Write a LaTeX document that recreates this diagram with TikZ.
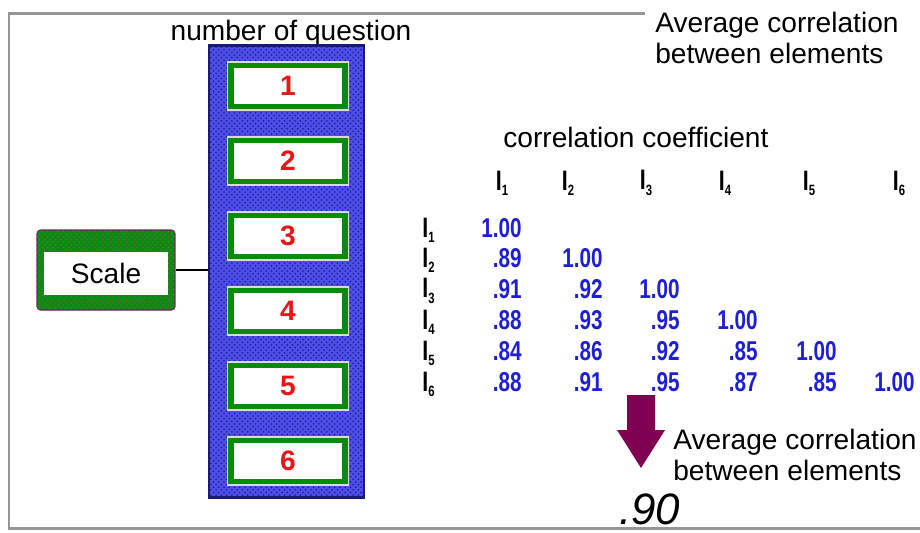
\documentclass[tikz,border=0pt]{standalone}
\usepackage{fontspec}
\setmainfont{Liberation Sans}
\newfontfamily\numfont[FakeStretch=0.76]{Liberation Sans}
\usetikzlibrary{patterns}

\definecolor{qblue}{RGB}{78,78,236}
\definecolor{qdark}{RGB}{25,25,120}
\definecolor{qgreen}{RGB}{10,140,10}
\definecolor{qred}{RGB}{232,22,22}
\definecolor{vblue}{RGB}{30,30,215}
\definecolor{arrowpurple}{RGB}{128,0,82}
\definecolor{framegray}{RGB}{150,150,150}

\newcommand{\itm}[1]{{\bfseries I}\raisebox{-0.35ex}{\fontsize{8.5}{9}\selectfont\bfseries #1}}

\begin{document}
\begin{tikzpicture}[
  x=0.02cm, y=-0.02cm,
  lbl/.style={font=\fontsize{16}{17.5}\selectfont, inner sep=0, align=left},
  qcol/.style={draw=qdark, line width=1.5pt, fill=qblue,
    postaction={pattern=crosshatch dots, pattern color=qdark},
    minimum width=3.1cm, minimum height=9.04cm, inner sep=0},
  qbox/.style={fill=white, draw=qgreen, line width=3.2pt,
    preaction={draw=gray!30, line width=5pt},
    minimum width=2.28cm, minimum height=0.82cm, inner sep=0,
    text=qred, font=\fontsize{16}{16}\selectfont\bfseries},
  scalebg/.style={draw={rgb,255:red,120;green,30;blue,100}, line width=0.6pt,
    rounded corners=2pt, fill=qgreen,
    postaction={pattern=crosshatch dots, pattern color=black!60},
    minimum width=2.76cm, minimum height=1.6cm, inner sep=0},
  scalebox/.style={fill=white, minimum width=2.5cm, minimum height=0.86cm,
    inner sep=0, font=\fontsize{16}{16}\selectfont},
  val/.style={anchor=east, inner sep=0, text=vblue,
    font=\fontsize{15.5}{15.5}\selectfont\numfont\bfseries},
  itmlbl/.style={inner sep=0, font=\fontsize{16}{16}\selectfont\numfont}
]
\useasboundingbox (0,0) rectangle (920,532);

% frame
\draw[framegray, line width=1.7pt] (645,13) -- (9,13) -- (9,528) -- (920,528);

% questions
\node[lbl] (numq) at (291,33) {number of question};
\node[qcol] (qcol) at (286.5,271.5) {};
\node[qbox] (q1) at (288,86) {1};
\node[qbox] (q2) at (288,161) {2};
\node[qbox] (q3) at (288,236) {3};
\node[qbox] (q4) at (288,311) {4};
\node[qbox] (q5) at (288,386) {5};
\node[qbox] (q6) at (288,461) {6};

% scale
\node[scalebg] (scaleouter) at (106,270) {};
\node[scalebox] (scale) at (106,273) {Scale};
\draw[line width=1.2pt] (scaleouter.east) -- (scaleouter.east -| qcol.west);

% correlation matrix
\node[lbl, anchor=north west] (avgtop) at (655,12) {Average correlation\\between elements};
\node[lbl, anchor=west] (coef) at (503,137) {correlation coefficient};

\node[itmlbl] (h1) at (502,183) {\itm{1}};
\node[itmlbl] (h2) at (568,183) {\itm{2}};
\node[itmlbl] (h3) at (646,183) {\itm{3}};
\node[itmlbl] (h4) at (725,183) {\itm{4}};
\node[itmlbl] (h5) at (809,183) {\itm{5}};
\node[itmlbl] (h6) at (899,183) {\itm{6}};

\node[itmlbl, anchor=west] (r1) at (422,230) {\itm{1}};
\node[itmlbl, anchor=west] (r2) at (422,260) {\itm{2}};
\node[itmlbl, anchor=west] (r3) at (422,291) {\itm{3}};
\node[itmlbl, anchor=west] (r4) at (422,322) {\itm{4}};
\node[itmlbl, anchor=west] (r5) at (422,353) {\itm{5}};
\node[itmlbl, anchor=west] (r6) at (422,384) {\itm{6}};

\node[val] (v11) at (522,228) {1.00};
\node[val] (v21) at (522,258) {.89};
\node[val] (v22) at (603,258) {1.00};
\node[val] (v31) at (522,289) {.91};
\node[val] (v32) at (603,289) {.92};
\node[val] (v33) at (680,289) {1.00};
\node[val] (v41) at (522,320) {.88};
\node[val] (v42) at (603,320) {.93};
\node[val] (v43) at (680,320) {.95};
\node[val] (v44) at (758,320) {1.00};
\node[val] (v51) at (522,351) {.84};
\node[val] (v52) at (603,351) {.86};
\node[val] (v53) at (680,351) {.92};
\node[val] (v54) at (758,351) {.85};
\node[val] (v55) at (837,351) {1.00};
\node[val] (v61) at (522,382) {.88};
\node[val] (v62) at (603,382) {.91};
\node[val] (v63) at (680,382) {.95};
\node[val] (v64) at (758,382) {.87};
\node[val] (v65) at (837,382) {.85};
\node[val] (v66) at (915,382) {1.00};

% average
\fill[arrowpurple] (627,395) -- (655,395) -- (655,430) -- (665,430) -- (641,468)
  -- (617,430) -- (627,430) -- cycle;
\node[lbl, anchor=north west] (avgbot) at (673,429) {Average correlation\\between elements};
\node[inner sep=0, anchor=base west, font=\fontsize{25}{25}\selectfont\itshape] (avg) at (619,524) {.90};
\end{tikzpicture}
\end{document}
